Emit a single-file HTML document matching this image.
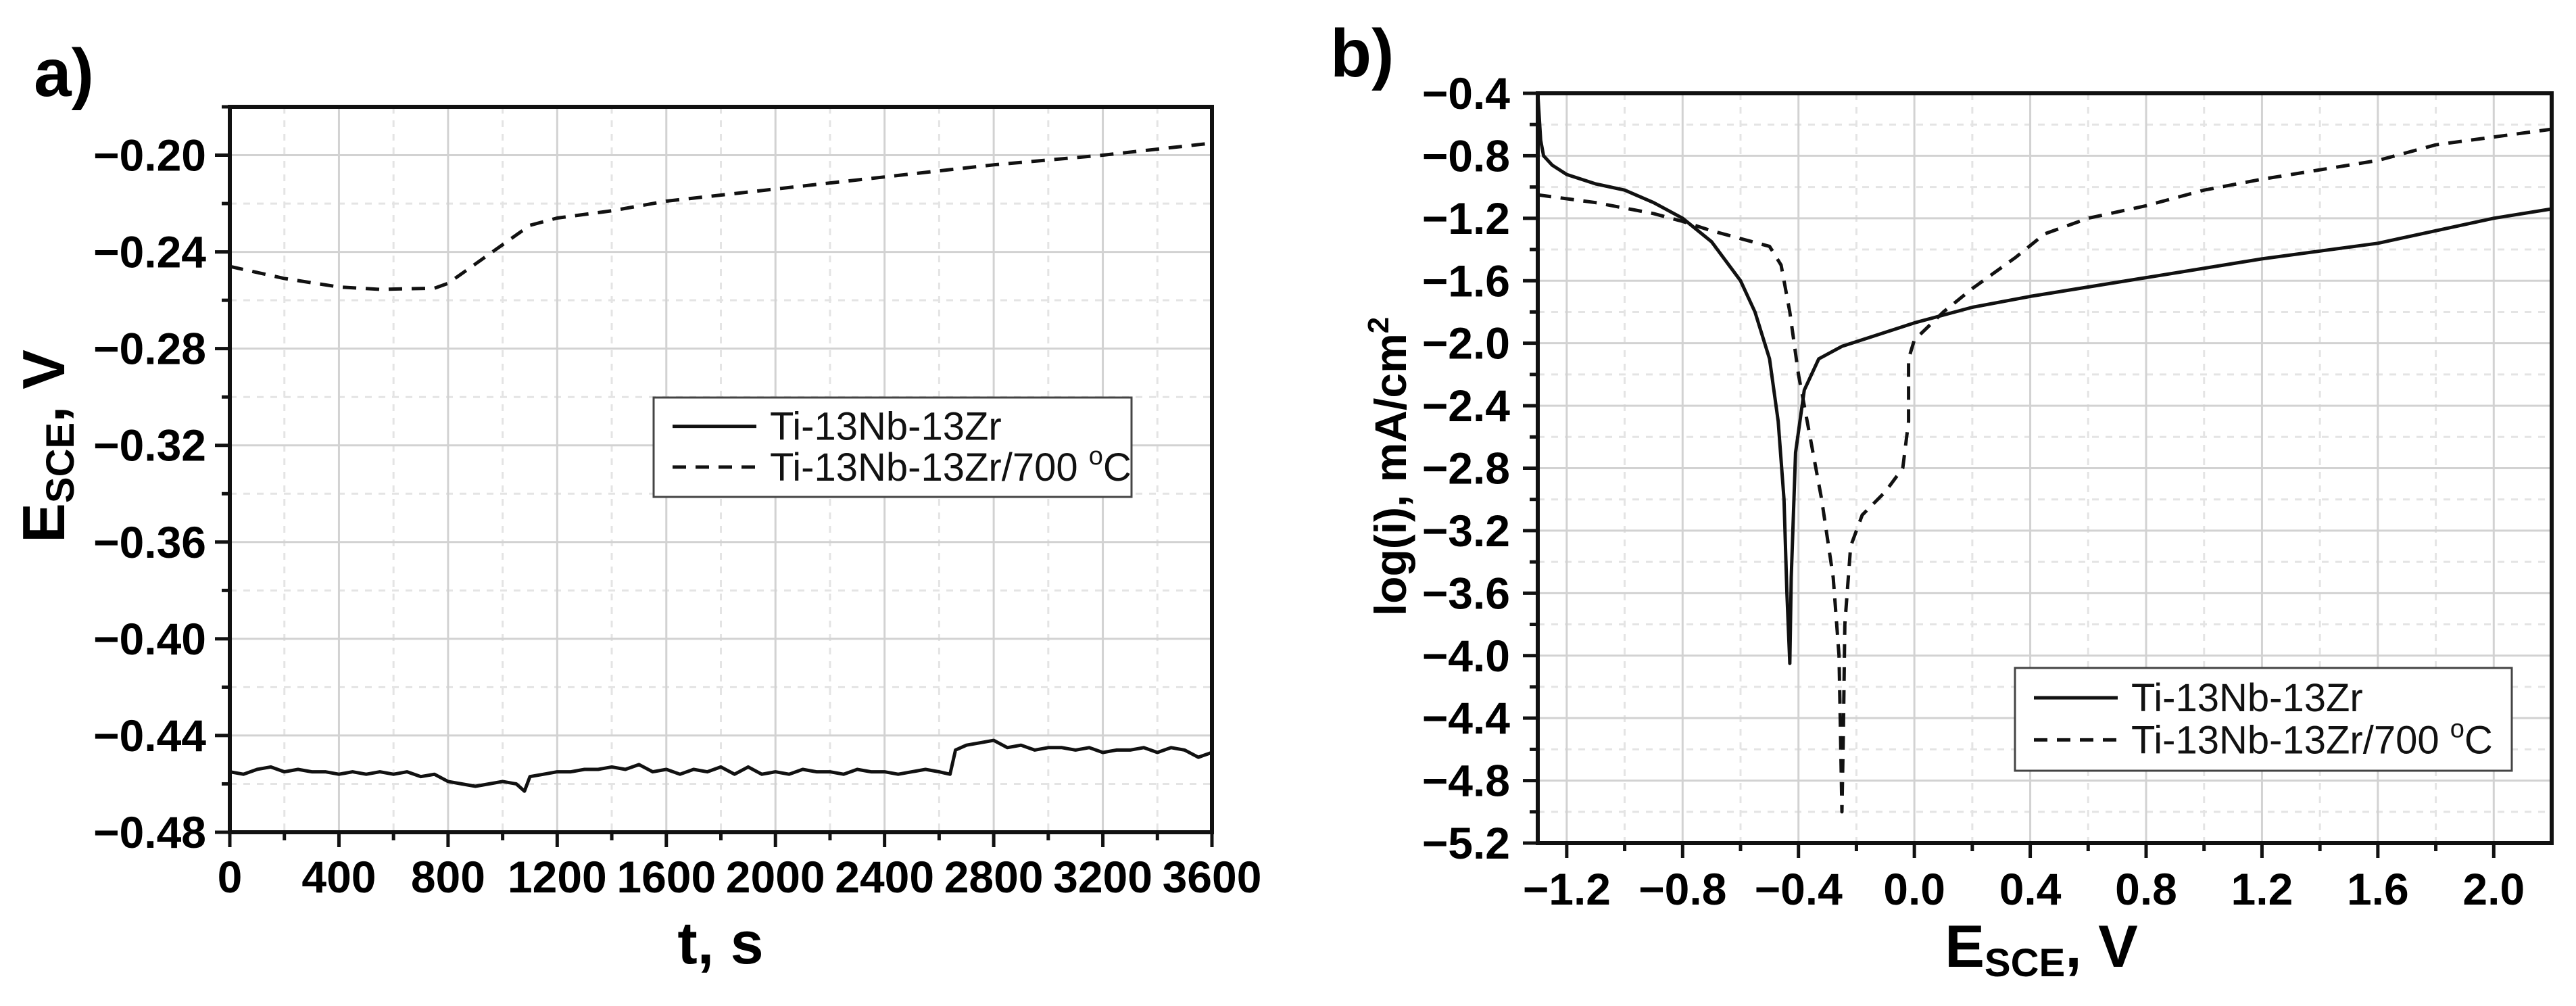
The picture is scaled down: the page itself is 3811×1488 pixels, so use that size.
<!DOCTYPE html>
<html><head><meta charset="utf-8"><style>
html,body{margin:0;padding:0;background:#fff;}
svg{display:block;font-family:"Liberation Sans Narrow","Liberation Sans",sans-serif;}
</style></head><body>
<svg id="fig" width="3811" height="1488" viewBox="0 0 3811 1488" xmlns="http://www.w3.org/2000/svg"></svg>
<script>
// ---- Panel a data ----
const aTimeDashed = [0,200,400,550,750,800,900,1000,1100,1200,1400,1600,2000,2400,2800,3200,3600];
const aEDashed = [-0.246,-0.251,-0.2545,-0.2555,-0.255,-0.253,-0.245,-0.237,-0.229,-0.226,-0.223,-0.219,-0.214,-0.209,-0.204,-0.200,-0.195];
const aTimeSolid = [0,50,100,150,200,250,300,350,400,450,500,550,600,650,700,750,800,850,900,950,1000,1050,1080,1100,1150,1200,1250,1300,1350,1400,1450,1500,1550,1600,1650,1700,1750,1800,1850,1900,1950,2000,2050,2100,2150,2200,2250,2300,2350,2400,2450,2500,2550,2600,2640,2660,2700,2750,2800,2850,2900,2950,3000,3050,3100,3150,3200,3250,3300,3350,3400,3450,3500,3550,3600];
const aESolid = [-0.455,-0.456,-0.454,-0.453,-0.455,-0.454,-0.455,-0.455,-0.456,-0.455,-0.456,-0.455,-0.456,-0.455,-0.457,-0.456,-0.459,-0.460,-0.461,-0.460,-0.459,-0.460,-0.463,-0.457,-0.456,-0.455,-0.455,-0.454,-0.454,-0.453,-0.454,-0.452,-0.455,-0.454,-0.456,-0.454,-0.455,-0.453,-0.456,-0.453,-0.456,-0.455,-0.456,-0.454,-0.455,-0.455,-0.456,-0.454,-0.455,-0.455,-0.456,-0.455,-0.454,-0.455,-0.456,-0.446,-0.444,-0.443,-0.442,-0.445,-0.444,-0.446,-0.445,-0.445,-0.446,-0.445,-0.447,-0.446,-0.446,-0.445,-0.447,-0.445,-0.446,-0.449,-0.447];
const aXTicks = [0,400,800,1200,1600,2000,2400,2800,3200,3600];
const aYTicks = [-0.48,-0.44,-0.40,-0.36,-0.32,-0.28,-0.24,-0.20];
// ---- Panel b data ----
const bESolid = [-1.3,-1.29,-1.28,-1.25,-1.2,-1.1,-1.0,-0.9,-0.8,-0.7,-0.6,-0.55,-0.5,-0.47,-0.45,-0.44,-0.43,-0.425,-0.41,-0.38,-0.33,-0.25,-0.1,0,0.2,0.4,0.8,1.2,1.6,2.0,2.2];
const bISolid = [-0.4,-0.7,-0.8,-0.86,-0.92,-0.98,-1.02,-1.1,-1.2,-1.35,-1.6,-1.8,-2.1,-2.5,-3.0,-3.6,-4.05,-3.5,-2.7,-2.3,-2.1,-2.02,-1.93,-1.87,-1.77,-1.7,-1.58,-1.46,-1.36,-1.2,-1.14];
const bEDashed = [-1.3,-1.1,-0.9,-0.8,-0.7,-0.6,-0.5,-0.46,-0.43,-0.4,-0.36,-0.32,-0.28,-0.26,-0.255,-0.25,-0.245,-0.24,-0.22,-0.18,-0.1,-0.04,-0.02,-0.02,0.0,0.1,0.2,0.35,0.45,0.6,0.8,1.0,1.2,1.6,1.8,2.2];
const bIDashed = [-1.05,-1.1,-1.17,-1.22,-1.28,-1.33,-1.38,-1.5,-1.8,-2.2,-2.6,-3.0,-3.5,-4.0,-4.5,-5.0,-4.5,-3.8,-3.3,-3.1,-2.95,-2.8,-2.5,-2.1,-1.98,-1.8,-1.65,-1.45,-1.3,-1.2,-1.12,-1.02,-0.95,-0.83,-0.73,-0.63];
const bXTicks = [-1.2,-0.8,-0.4,0.0,0.4,0.8,1.2,1.6,2.0];
const bYTicks = [-5.2,-4.8,-4.4,-4.0,-3.6,-3.2,-2.8,-2.4,-2.0,-1.6,-1.2,-0.8,-0.4];

const NS="http://www.w3.org/2000/svg";
const svg=document.getElementById('fig');
function mk(tag,attrs,parent,text){const e=document.createElementNS(NS,tag);for(const k in attrs)e.setAttribute(k,attrs[k]);if(text!==undefined)e.textContent=text;(parent||svg).appendChild(e);return e;}
function fmt(v,d){return (v<0?'\u2212':'')+Math.abs(v).toFixed(d);}

function panel(o){
  const g=mk('g',{});
  
  
  const sx=v=>o.L+(v-o.xmin)/(o.xmax-o.xmin)*(o.R-o.L);
  const sy=v=>o.B-(v-o.ymin)/(o.ymax-o.ymin)*(o.B-o.T);
  const grid=mk('g',{},g);
  
  
  // minor grid
  for(let i=0;i<o.xt.length;i++){
    const xv=o.xt[i]+o.xstep/2; if(xv<o.xmax) mk('line',{x1:sx(xv),x2:sx(xv),y1:o.T,y2:o.B,stroke:'#e4e4e4','stroke-width':3,'stroke-dasharray':'10 10'},grid);
    const xv2=o.xt[i]-o.xstep/2; if(i===0&&xv2>o.xmin) mk('line',{x1:sx(xv2),x2:sx(xv2),y1:o.T,y2:o.B,stroke:'#e4e4e4','stroke-width':3,'stroke-dasharray':'10 10'},grid);
  }
  for(let i=0;i<o.yt.length;i++){
    const yv=o.yt[i]+o.ystep/2; if(yv<o.ymax) mk('line',{x1:o.L,x2:o.R,y1:sy(yv),y2:sy(yv),stroke:'#e4e4e4','stroke-width':3,'stroke-dasharray':'10 10'},grid);
  }
  o.xt.forEach(v=>{ if(v>o.xmin&&v<o.xmax) mk('line',{x1:sx(v),x2:sx(v),y1:o.T,y2:o.B,stroke:'#d2d2d2','stroke-width':3},grid);});
  o.yt.forEach(v=>{ if(v>o.ymin&&v<o.ymax) mk('line',{x1:o.L,x2:o.R,y1:sy(v),y2:sy(v),stroke:'#d2d2d2','stroke-width':3},grid);});
  // series
  o.series.forEach(s=>{
    const p=mk('path',{d:s.x.map((v,i)=>(i?'L':'M')+sx(v).toFixed(1)+' '+sy(s.y[i]).toFixed(1)).join(''),fill:'none',stroke:'#111','stroke-width':5,'stroke-dasharray':s.dash||'none','stroke-linejoin':'round'},g);
    
    
  });
  // frame
  const fr=mk('rect',{x:o.L,y:o.T,width:o.R-o.L,height:o.B-o.T,fill:'none',stroke:'#111','stroke-width':6},g);
  
  
  // ticks
  o.xt.forEach(v=>{
    mk('line',{x1:sx(v),x2:sx(v),y1:o.B,y2:o.B+22,stroke:'#111','stroke-width':5},g);
    const t=mk('text',{x:sx(v),y:o.xlabY,'text-anchor':'middle','font-size':66,'font-weight':'bold',fill:'#000'},g,fmt(v,o.xd));
    
    
    const mv=v+o.xstep/2; if(mv<o.xmax) mk('line',{x1:sx(mv),x2:sx(mv),y1:o.B,y2:o.B+12,stroke:'#111','stroke-width':5},g);
  });
  if(o.xt[0]-o.xstep/2>o.xmin){const mv=o.xt[0]-o.xstep/2;mk('line',{x1:sx(mv),x2:sx(mv),y1:o.B,y2:o.B+12,stroke:'#111','stroke-width':5},g);}
  o.yt.forEach(v=>{
    mk('line',{x1:o.L-22,x2:o.L,y1:sy(v),y2:sy(v),stroke:'#111','stroke-width':5},g);
    const t=mk('text',{x:o.ylabX,y:sy(v)+23,'text-anchor':'end','font-size':66,'font-weight':'bold',fill:'#000'},g,fmt(v,o.yd));
    
    
    const mv=v+o.ystep/2; if(mv<o.ymax) mk('line',{x1:o.L-12,x2:o.L,y1:sy(mv),y2:sy(mv),stroke:'#111','stroke-width':5},g);
  });
  // legend
  const lg=mk('g',{},g);
  
  
  mk('rect',{x:o.lg.x,y:o.lg.y,width:o.lg.w,height:o.lg.h,fill:'#fff',stroke:'#444','stroke-width':3},lg);
  const names=['Ti-13Nb-13Zr','Ti-13Nb-13Zr/700 '];
  [0,1].forEach(i=>{
    const yy=o.lg.y+o.lg.h*(i?0.7:0.29);
    mk('line',{x1:o.lg.x+28,x2:o.lg.x+152,y1:yy,y2:yy,stroke:'#111','stroke-width':5,'stroke-dasharray':i?'20 14':'none'},lg);
    const t=mk('text',{x:o.lg.x+172,y:yy+20,'font-size':58,fill:'#111','font-family':'Liberation Sans, sans-serif'},lg,names[i]);
    
    
    if(i){const s1=mk('tspan',{'font-size':38,dy:-24},t,'o');const s2=mk('tspan',{dy:24},t,'C');}
  });
  return {sx,sy,g};
}

const A=panel({name:'panel-a',L:340,R:1793,T:158,B:1231,xmin:0,xmax:3600,ymin:-0.48,ymax:-0.18,xt:aXTicks,yt:aYTicks,xstep:400,ystep:0.04,xd:0,yd:2,xlabY:1320,ylabX:305,
  series:[{name:'series-ti13nb13zr',x:aTimeSolid,y:aESolid},{name:'series-ti13nb13zr-700c',x:aTimeDashed,y:aEDashed,dash:'20 14'}],
  lg:{x:967,y:588,w:707,h:147}});
const B=panel({name:'panel-b',L:2275,R:3775,T:138,B:1247,xmin:-1.3,xmax:2.2,ymin:-5.2,ymax:-0.4,xt:bXTicks,yt:bYTicks,xstep:0.4,ystep:0.4,xd:1,yd:1,xlabY:1338,ylabX:2234,
  series:[{name:'series-ti13nb13zr',x:bESolid,y:bISolid},{name:'series-ti13nb13zr-700c',x:bEDashed,y:bIDashed,dash:'20 14'}],
  lg:{x:2981,y:988,w:735,h:152}});

// titles
let t;
t=mk('text',{x:50,y:142,'font-size':100,'font-weight':'bold'},svg,'a)');

t=mk('text',{x:1968,y:113,'font-size':100,'font-weight':'bold'},svg,'b)');

t=mk('text',{x:1066,y:1425,'font-size':88,'font-weight':'bold','text-anchor':'middle'},svg,'t, s');

t=mk('text',{x:0,y:0,'font-size':88,'font-weight':'bold','text-anchor':'middle',transform:'translate(95,660) rotate(-90)'},svg);

mk('tspan',{},t,'E');mk('tspan',{'font-size':58,dy:14},t,'SCE');mk('tspan',{dy:-14},t,', V');
t=mk('text',{x:0,y:0,'font-size':66,'font-weight':'bold','text-anchor':'middle',transform:'translate(2080,690) rotate(-90)'},svg);

mk('tspan',{},t,'log(i), mA/cm');mk('tspan',{'font-size':44,dy:-26},t,'2');
t=mk('text',{x:3020,y:1430,'font-size':88,'font-weight':'bold','text-anchor':'middle'},svg);

mk('tspan',{},t,'E');mk('tspan',{'font-size':58,dy:14},t,'SCE');mk('tspan',{dy:-14},t,', V');
</script>
</body></html>
